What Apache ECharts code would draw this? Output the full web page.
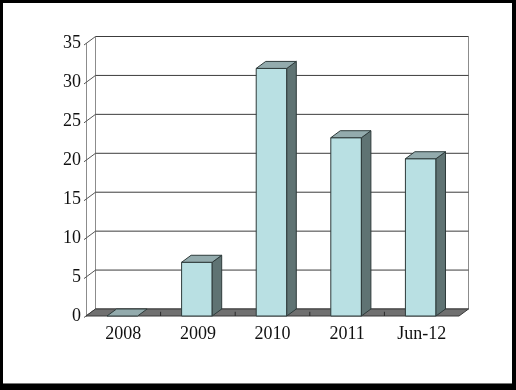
<!DOCTYPE html>
<html><head><meta charset="utf-8">
<script src="https://cdn.jsdelivr.net/npm/echarts/dist/echarts.min.js"></script>
<style>html,body{margin:0;padding:0;background:#fff}#c{width:516px;height:390px}</style>
</head><body><div id="c"></div>
<script>
const categories = ['2008', '2009', '2010', '2011', 'Jun-12'];
const values = [0, 6.9, 31.8, 22.9, 20.2];
const yTicks = [0, 5, 10, 15, 20, 25, 30, 35];

const DX = 9.5, DY = -7;
const chart = echarts.init(document.getElementById('c'));

function renderFrame(params, api) {
  const cs = params.coordSys;
  const x0 = cs.x, x1 = cs.x + cs.width;
  const yb = api.coord([0, yTicks[0]])[1];
  const yt = api.coord([0, yTicks[yTicks.length - 1]])[1];
  const ch = [];
  // back wall edges
  ch.push({type: 'line', shape: {x1: x0 + DX, y1: yb + DY, x2: x0 + DX, y2: yt + DY}, style: {stroke: '#8c8c8c', lineWidth: 1}});
  ch.push({type: 'line', shape: {x1: x1 + DX, y1: yb + DY, x2: x1 + DX, y2: yt + DY}, style: {stroke: '#8c8c8c', lineWidth: 1}});
  yTicks.forEach(function (t) {
    const y = api.coord([0, t])[1];
    ch.push({type: 'line', shape: {x1: x0 + DX, y1: y + DY, x2: x1 + DX, y2: y + DY}, style: {stroke: '#3c3c3c', lineWidth: 1}});
    ch.push({type: 'line', shape: {x1: x0 - 2, y1: y + 1.5, x2: x0 + DX, y2: y + DY}, style: {stroke: '#555', lineWidth: 1}});
  });
  // floor
  ch.push({type: 'polygon', shape: {points: [[x0, yb], [x1, yb], [x1 + DX, yb + DY], [x0 + DX, yb + DY]]},
    style: {fill: '#707070', stroke: '#3a3a3a', lineWidth: 1}});
  const band = api.size([1, 0])[0];
  for (let i = 1; i < categories.length; i++) {
    const bx = x0 + band * i;
    ch.push({type: 'line', shape: {x1: bx, y1: yb, x2: bx, y2: yb + DY * 0.6}, style: {stroke: '#2a2a2a', lineWidth: 1}});
  }
  return {type: 'group', children: ch};
}

function renderBar(params, api) {
  const i = api.value(0), v = api.value(1);
  const top = api.coord([i, v]);
  const base = api.coord([i, 0]);
  const band = api.size([1, 0])[0];
  const w = band * 0.41;
  const xl = top[0] - w / 2 - 1, xr = xl + w;
  const yt = top[1], yb = base[1];
  const edge = '#2e3b3b';
  const ch = [];
  if (yb - yt > 0.5) {
    ch.push({type: 'rect', shape: {x: xl, y: yt, width: w, height: yb - yt}, style: {fill: '#b9e0e3', stroke: edge, lineWidth: 1}});
    ch.push({type: 'polygon', shape: {points: [[xr, yt], [xr + DX, yt + DY], [xr + DX, yb + DY], [xr, yb]]}, style: {fill: '#5f7373', stroke: edge, lineWidth: 1}});
  }
  ch.push({type: 'polygon', shape: {points: [[xl, yt], [xr, yt], [xr + DX, yt + DY], [xl + DX, yt + DY]]}, style: {fill: '#93abad', stroke: edge, lineWidth: 1}});
  return {type: 'group', children: ch};
}

const font = 'Liberation Serif, Times New Roman, serif';
chart.setOption({
  animation: false,
  backgroundColor: '#fff',
  grid: {left: 86, right: 57, top: 43.5, bottom: 74},
  xAxis: {
    type: 'category', data: categories,
    axisLine: {show: false}, axisTick: {show: false},
    axisLabel: {color: '#111', fontFamily: font, fontSize: 18, margin: 9}
  },
  yAxis: {
    type: 'value', min: 0, max: 35, interval: 5,
    axisLine: {show: true, lineStyle: {color: '#8c8c8c'}},
    axisTick: {show: false}, splitLine: {show: false},
    axisLabel: {color: '#111', fontFamily: font, fontSize: 18, margin: 5}
  },
  series: [
    {type: 'custom', coordinateSystem: 'cartesian2d', clip: false, silent: true, z: 1,
      data: [[0, 0]], renderItem: renderFrame},
    {type: 'custom', coordinateSystem: 'cartesian2d', clip: false, z: 3,
      data: values.map(function (v, i) { return [i, v]; }), encode: {x: 0, y: 1}, renderItem: renderBar}
  ],
  graphic: [
    {type: 'rect', z: 100, shape: {x: 0, y: 0, width: 516, height: 3}, style: {fill: '#000'}},
    {type: 'rect', z: 100, shape: {x: 0, y: 0, width: 3, height: 390}, style: {fill: '#000'}},
    {type: 'rect', z: 100, shape: {x: 512, y: 0, width: 4, height: 390}, style: {fill: '#000'}},
    {type: 'rect', z: 100, shape: {x: 0, y: 384, width: 516, height: 6}, style: {fill: '#000'}},
    {type: 'rect', z: 100, shape: {x: 3, y: 383, width: 509, height: 1}, style: {fill: '#777'}}
  ]
});
</script></body></html>
